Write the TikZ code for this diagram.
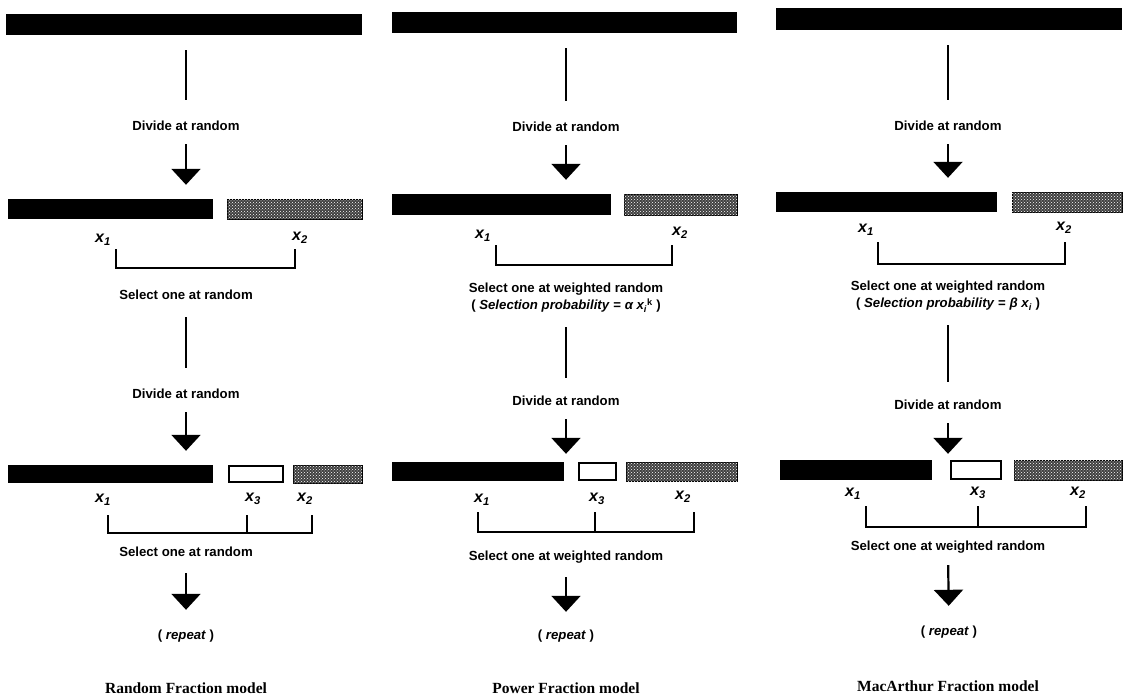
\documentclass[tikz,border=0pt]{standalone}
\usepackage{fontspec}
\setmainfont{Liberation Sans}
\newfontfamily\ttlfont{Liberation Serif}
\usetikzlibrary{arrows.meta,patterns,fit}
\begin{document}
\begin{tikzpicture}[x=1pt,y=-1pt,
  kbar/.style={fill=black,draw=none,inner sep=0pt},
  hbar/.style={fill=black!75,draw=black,line width=1pt,inner sep=0pt,postaction={pattern=crosshatch dots,pattern color=white}},
  wbar/.style={fill=white,draw=black,line width=2.4pt,inner sep=0pt},
  lbl/.style={inner sep=0pt,text height=9.5pt,text depth=2.5pt,font=\fontsize{13.2}{15}\selectfont\bfseries},
  xlbl/.style={inner sep=0pt,font=\fontsize{16}{18}\selectfont\bfseries\itshape},
  ttl/.style={inner sep=0pt,font=\fontsize{15.5}{17}\selectfont\ttlfont\bfseries},
  conn/.style={line width=2.2pt,shorten <=15pt,shorten >=21pt},
  arr/.style={line width=2.2pt,-{Triangle[width=29pt,length=16pt]},shorten <=11pt,shorten >=14pt},
  brk/.style={line width=2pt},
]
\useasboundingbox (0,0) rectangle (1130,699);

% ================= Column 1 : Random Fraction =================
\node[kbar,fit={(6,14) (362,35)}] (a0) {};
\node[lbl] (a1) at (186,127) {Divide at random};
\node[kbar,fit={(8,199) (213,219)}] (a2k) {};
\node[hbar,fit={(227,199) (362,219)}] (a2h) {};
\node[xlbl] (ax1) at (103,240) {x\textsubscript{1}};
\node[xlbl] (ax2) at (300,238) {x\textsubscript{2}};
\draw[brk] (116,249) -- (116,268) -- (295,268) -- (295,249);
\node[lbl] (a3) at (186,296) {Select one at random};
\node[lbl] (a4) at (186,395) {Divide at random};
\node[kbar,fit={(8,465) (213,483)}] (a5k) {};
\node[wbar,fit={(229,466) (283,482)}] (a5w) {};
\node[hbar,fit={(293,465) (362,483)}] (a5h) {};
\node[xlbl] (bx1) at (103,500) {x\textsubscript{1}};
\node[xlbl] (bx3) at (253,499) {x\textsubscript{3}};
\node[xlbl] (bx2) at (305,499) {x\textsubscript{2}};
\draw[brk] (108,515) -- (108,533) -- (312,533) -- (312,515) (247,515) -- (247,533);
\node[lbl] (a6) at (186,553) {Select one at random};
\node[lbl] (a7) at (186,636) {( \textit{repeat} )};
\node[ttl] (a8) at (186,688) {Random Fraction model};
\draw[conn] (a0.south -| a1.north) -- (a1.north);
\draw[arr] (a1.south) -- (a1.south |- a2k.north);
\draw[conn] (a3.south) -- (a4.north);
\draw[arr] (a4.south) -- (a4.south |- a5k.north);
\draw[arr,shorten <=14pt,shorten >=20pt] (a6.south) -- (a7.north);

% ================= Column 2 : Power Fraction =================
\node[kbar,fit={(392,12) (737,33)}] (b0) {};
\node[lbl] (b1) at (566,128) {Divide at random};
\node[kbar,fit={(392,194) (611,215)}] (b2k) {};
\node[hbar,fit={(624,194) (737,215)}] (b2h) {};
\node[xlbl] (cx1) at (483,236) {x\textsubscript{1}};
\node[xlbl] (cx2) at (680,233) {x\textsubscript{2}};
\draw[brk] (496,245) -- (496,265) -- (672,265) -- (672,245);
\node[lbl] (b3) at (566,289) {Select one at weighted random};
\node[lbl] (b3p) at (566,306) {( \textit{Selection probability} = \textit{α x\textsubscript{i}}\textsuperscript{k} )};
\node[lbl] (b4) at (566,402) {Divide at random};
\node[kbar,fit={(392,462) (564,481)}] (b5k) {};
\node[wbar,fit={(579,463) (616,480)}] (b5w) {};
\node[hbar,fit={(626,462) (737,481)}] (b5h) {};
\node[xlbl] (dx1) at (482,500) {x\textsubscript{1}};
\node[xlbl] (dx3) at (597,499) {x\textsubscript{3}};
\node[xlbl] (dx2) at (683,497) {x\textsubscript{2}};
\draw[brk] (478,512) -- (478,532) -- (694,532) -- (694,512) (595,512) -- (595,532);
\node[lbl] (b6) at (566,557) {Select one at weighted random};
\node[lbl] (b7) at (566,636) {( \textit{repeat} )};
\node[ttl] (b8) at (566,688) {Power Fraction model};
\draw[conn] (b0.south -| b1.north) -- (b1.north);
\draw[arr] (b1.south) -- (b1.south |- b2k.north);
\draw[conn,shorten >=18pt] (b3p.south) -- (b4.north);
\draw[arr,shorten >=8pt] (b4.south) -- (b4.south |- b5k.north);
\draw[arr,shorten <=14pt,shorten >=18pt] (b6.south) -- (b7.north);

% ================= Column 3 : MacArthur Fraction =================
\node[kbar,fit={(776,8) (1122,30)}] (c0) {};
\node[lbl] (c1) at (948,127) {Divide at random};
\node[kbar,fit={(776,192) (997,212)}] (c2k) {};
\node[hbar,fit={(1012,192) (1122,212)}] (c2h) {};
\node[xlbl] (ex1) at (866,230) {x\textsubscript{1}};
\node[xlbl] (ex2) at (1064,228) {x\textsubscript{2}};
\draw[brk] (878,242) -- (878,264) -- (1065,264) -- (1065,242);
\node[lbl] (c3) at (948,287) {Select one at weighted random};
\node[lbl] (c3p) at (948,304) {( \textit{Selection probability} = \textit{β x\textsubscript{i}} )};
\node[lbl] (c4) at (948,406) {Divide at random};
\node[kbar,fit={(780,460) (932,480)}] (c5k) {};
\node[wbar,fit={(951,461) (1001,479)}] (c5w) {};
\node[hbar,fit={(1014,460) (1122,480)}] (c5h) {};
\node[xlbl] (fx1) at (853,494) {x\textsubscript{1}};
\node[xlbl] (fx3) at (978,493) {x\textsubscript{3}};
\node[xlbl] (fx2) at (1078,493) {x\textsubscript{2}};
\draw[brk] (866,506) -- (866,527) -- (1086,527) -- (1086,506) (978,506) -- (978,527);
\node[lbl] (c6) at (948,547) {Select one at weighted random};
\node[lbl] (c7) at (949,632) {( \textit{repeat} )};
\node[ttl] (c8) at (948,686) {MacArthur Fraction model};
\draw[conn] (c0.south -| c1.north) -- (c1.north);
\draw[arr] (c1.south) -- (c1.south |- c2k.north);
\draw[conn,shorten >=18pt] (c3p.south) -- (c4.north);
\draw[arr,shorten >=6pt] (c4.south) -- (c4.south |- c5k.north);
\draw[arr,shorten <=12pt,shorten >=20pt] (c6.south) -- (c7.north);
\end{tikzpicture}
\end{document}
